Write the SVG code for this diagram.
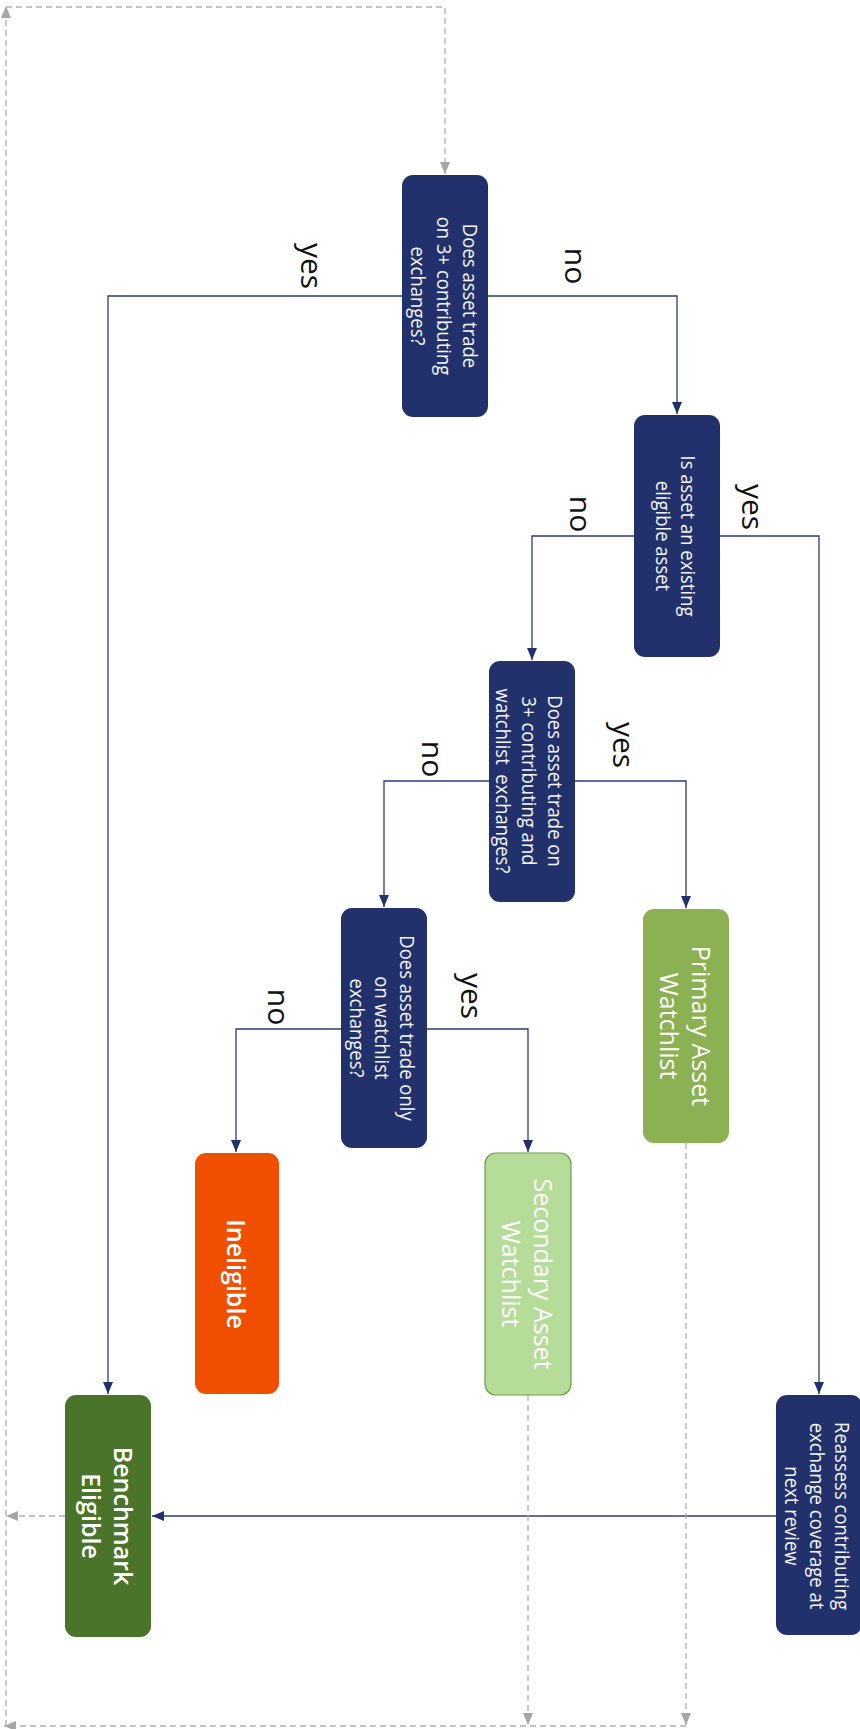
<svg xmlns="http://www.w3.org/2000/svg" width="860" height="1729" viewBox="0 0 860 1729">
<style>
.q{fill:#22316c}
.t{font-family:"Open Sans","Liberation Sans",sans-serif;font-size:18.5px;fill:#f4f5f9;text-anchor:middle;dominant-baseline:central}
.b{font-family:"Open Sans","Liberation Sans",sans-serif;font-size:25px;fill:#ffffff;text-anchor:middle;dominant-baseline:central}
.l{font-family:"Open Sans","Liberation Sans",sans-serif;font-size:30px;fill:#111111;text-anchor:middle;dominant-baseline:central}
.c{fill:none;stroke:#2c3b78;stroke-width:1.3}
.d{fill:none;stroke:#b0b0b0;stroke-width:1.3;stroke-dasharray:6 4}
</style>
<defs>
<marker id="an" markerUnits="userSpaceOnUse" markerWidth="12" markerHeight="10" refX="12" refY="5" orient="auto"><path d="M0,0 L12,5 L0,10 z" fill="#22316c"/></marker>
<marker id="ag" markerUnits="userSpaceOnUse" markerWidth="12" markerHeight="10" refX="12" refY="5" orient="auto"><path d="M0,0 L12,5 L0,10 z" fill="#a6a6a6"/></marker>
</defs>
<g id="connectors">
<path class="c" d="M402,296 H108 V1394" marker-end="url(#an)"/>
<path class="c" d="M488,296 H677 V414" marker-end="url(#an)"/>
<path class="c" d="M720,536 H819 V1394" marker-end="url(#an)"/>
<path class="c" d="M634,536 H532 V660" marker-end="url(#an)"/>
<path class="c" d="M575,781 H686 V908" marker-end="url(#an)"/>
<path class="c" d="M489,781 H384 V907" marker-end="url(#an)"/>
<path class="c" d="M427,1029 H528 V1152" marker-end="url(#an)"/>
<path class="c" d="M341,1029 H236 V1152" marker-end="url(#an)"/>
<path class="c" d="M776,1516 H152" marker-end="url(#an)"/>
<path class="d" d="M65,1516 H6" marker-end="url(#ag)"/>
<path class="d" d="M686,1143 V1725" marker-end="url(#ag)"/>
<path class="d" d="M528,1395 V1725" marker-end="url(#ag)"/>
<path class="d" d="M686,1726 H4" marker-end="url(#ag)"/>
<path class="d" d="M6,1726 V6" marker-end="url(#ag)"/>
<path class="d" d="M6,7 H445 V174" marker-end="url(#ag)"/>
<text class="l" transform="translate(312,266) rotate(90)">yes</text>
<text class="l" transform="translate(576,266) rotate(90)">no</text>
<text class="l" transform="translate(753,507) rotate(90)">yes</text>
<text class="l" transform="translate(581,514) rotate(90)">no</text>
<text class="l" transform="translate(624,745) rotate(90)">yes</text>
<text class="l" transform="translate(433,759) rotate(90)">no</text>
<text class="l" transform="translate(472,996) rotate(90)">yes</text>
<text class="l" transform="translate(279,1007) rotate(90)">no</text>
</g>
<g id="n1">
<rect class="q" x="402" y="175" width="86" height="242" rx="11"/>
<text class="t" transform="translate(445,296) rotate(90) scale(1,1.12)"><tspan x="0" y="-23.2">Does asset trade</tspan><tspan x="0" y="0">on 3+ contributing</tspan><tspan x="0" y="23.2">exchanges?</tspan></text>
</g>
<g id="n2">
<rect class="q" x="634" y="415" width="86" height="242" rx="11"/>
<text class="t" transform="translate(677,536) rotate(90) scale(1,1.12)"><tspan x="0" y="-11.2">Is asset an existing</tspan><tspan x="0" y="11.2">eligible asset</tspan></text>
</g>
<g id="n3">
<rect class="q" x="489" y="661" width="86" height="241" rx="11"/>
<text class="t" transform="translate(530,781) rotate(90) scale(1,1.12)" xml:space="preserve"><tspan x="0" y="-23.2">Does asset trade on</tspan><tspan x="0" y="0">3+ contributing and</tspan><tspan x="0" y="23.2">watchlist  exchanges?</tspan></text>
</g>
<g id="n4">
<rect class="q" x="341" y="908" width="86" height="240" rx="11"/>
<text class="t" transform="translate(383,1028) rotate(90) scale(1,1.12)"><tspan x="0" y="-22.3">Does asset trade only</tspan><tspan x="0" y="0">on watchlist</tspan><tspan x="0" y="22.3">exchanges?</tspan></text>
</g>
<g id="primary">
<rect x="643" y="909" width="86" height="234" rx="11" fill="#8cb152"/>
<text class="b" transform="translate(686,1026) rotate(90)"><tspan x="0" y="-16">Primary Asset</tspan><tspan x="0" y="16">Watchlist</tspan></text>
</g>
<g id="secondary">
<rect x="485" y="1153" width="86" height="242" rx="11" fill="#b6dc9a" stroke="#6f9e48" stroke-width="1.2"/>
<text class="b" transform="translate(528,1274) rotate(90)"><tspan x="0" y="-16">Secondary Asset</tspan><tspan x="0" y="16">Watchlist</tspan></text>
</g>
<g id="ineligible">
<rect x="195" y="1153" width="84" height="241" rx="11" fill="#f04f00"/>
<text class="b" font-weight="600" transform="translate(237,1274) rotate(90)">Ineligible</text>
</g>
<g id="benchmark">
<rect x="65" y="1395" width="86" height="242" rx="11" fill="#4a7429"/>
<text class="b" font-weight="600" transform="translate(108,1516) rotate(90)"><tspan x="0" y="-16">Benchmark</tspan><tspan x="0" y="16">Eligible</tspan></text>
</g>
<g id="reassess">
<rect class="q" x="776" y="1395" width="86" height="240" rx="11"/>
<text class="t" transform="translate(818,1516) rotate(90) scale(1,1.12)"><tspan x="0" y="-22.3">Reassess contributing</tspan><tspan x="0" y="0">exchange coverage at</tspan><tspan x="0" y="22.3">next review</tspan></text>
</g>
</svg>
